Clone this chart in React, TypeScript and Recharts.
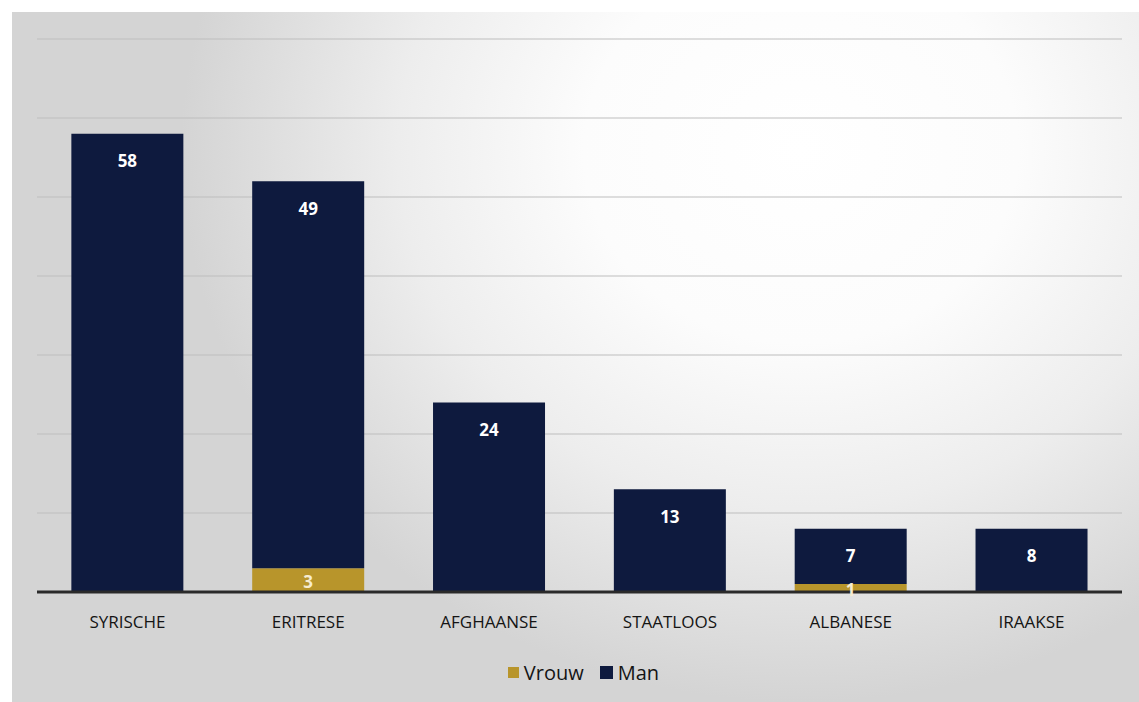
import React from 'react';
import { BarChart, Bar, XAxis, YAxis, CartesianGrid, LabelList } from 'recharts';

const categories = ['SYRISCHE', 'ERITRESE', 'AFGHAANSE', 'STAATLOOS', 'ALBANESE', 'IRAAKSE'];
const vrouw = [0, 3, 0, 0, 1, 0];
const man = [58, 49, 24, 13, 7, 8];
const yTicks = [0, 10, 20, 30, 40, 50, 60, 70];

const data = categories.map((c, i) => ({ name: c, Vrouw: vrouw[i], Man: man[i] }));

const NAVY = '#0e1a3e';
const GOLD = '#b8952b';
const FONT = '"Open Sans", "Noto Sans", sans-serif';

const ManLabel = (props: any) => {
  const { x, y, width, value } = props;
  return (
    <text x={x + width / 2} y={y + 27} textAnchor="middle" dominantBaseline="central"
      fill="#ffffff" fontFamily={FONT} fontWeight={700} fontSize={17}>{value}</text>
  );
};

const VrouwLabel = (props: any) => {
  const { x, y, width, height, value } = props;
  if (!value) return null;
  return (
    <text x={x + width / 2} y={y + height / 2 + 1} textAnchor="middle" dominantBaseline="central"
      fill="#f6ecd0" fontFamily={FONT} fontWeight={700} fontSize={17}>{value}</text>
  );
};

export default function App() {
  return (
    <div style={{ position: 'fixed', left: 0, top: 0, width: 1139, height: 702, background: '#ffffff', overflow: 'hidden' }}>
      <div style={{
        position: 'absolute', left: 12, top: 12, width: 1127, height: 690,
        background: 'radial-gradient(ellipse 55% 80% at 70% 20%, #ffffff 0%, #fcfcfc 35%, #ededed 65%, #d4d4d4 100%)'
      }} />
      <div style={{ position: 'absolute', left: 0, top: 0 }}>
        <BarChart width={1139} height={702} data={data}
          margin={{ top: 39, right: 17, bottom: 60, left: 37 }} barCategoryGap="19%">
          <CartesianGrid vertical={false} stroke="#bdbdbd" strokeWidth={1.2} />
          <YAxis hide domain={[0, 70]} ticks={yTicks} width={0} />
          <XAxis dataKey="name" height={50} tickLine={false}
            axisLine={{ stroke: '#2a2a2a', strokeWidth: 3 }}
            tick={{ fill: '#141414', fontSize: 17, fontFamily: FONT }} tickMargin={18} interval={0} />
          <Bar dataKey="Vrouw" stackId="a" fill={GOLD} isAnimationActive={false}>
            <LabelList dataKey="Vrouw" content={VrouwLabel} />
          </Bar>
          <Bar dataKey="Man" stackId="a" fill={NAVY} isAnimationActive={false}>
            <LabelList dataKey="Man" content={ManLabel} />
          </Bar>
        </BarChart>
      </div>
      <div style={{ position: 'absolute', left: 0, top: 659, width: 1139, boxSizing: 'border-box', display: 'flex', justifyContent: 'center', alignItems: 'center', fontFamily: FONT, fontSize: 20, color: '#141414', paddingLeft: 28 }}>
        <span style={{ display: 'inline-block', width: 11, height: 11, background: GOLD, marginRight: 5 }} />
        <span style={{ marginRight: 16 }}>Vrouw</span>
        <span style={{ display: 'inline-block', width: 13, height: 13, background: NAVY, marginRight: 5 }} />
        <span>Man</span>
      </div>
    </div>
  );
}
